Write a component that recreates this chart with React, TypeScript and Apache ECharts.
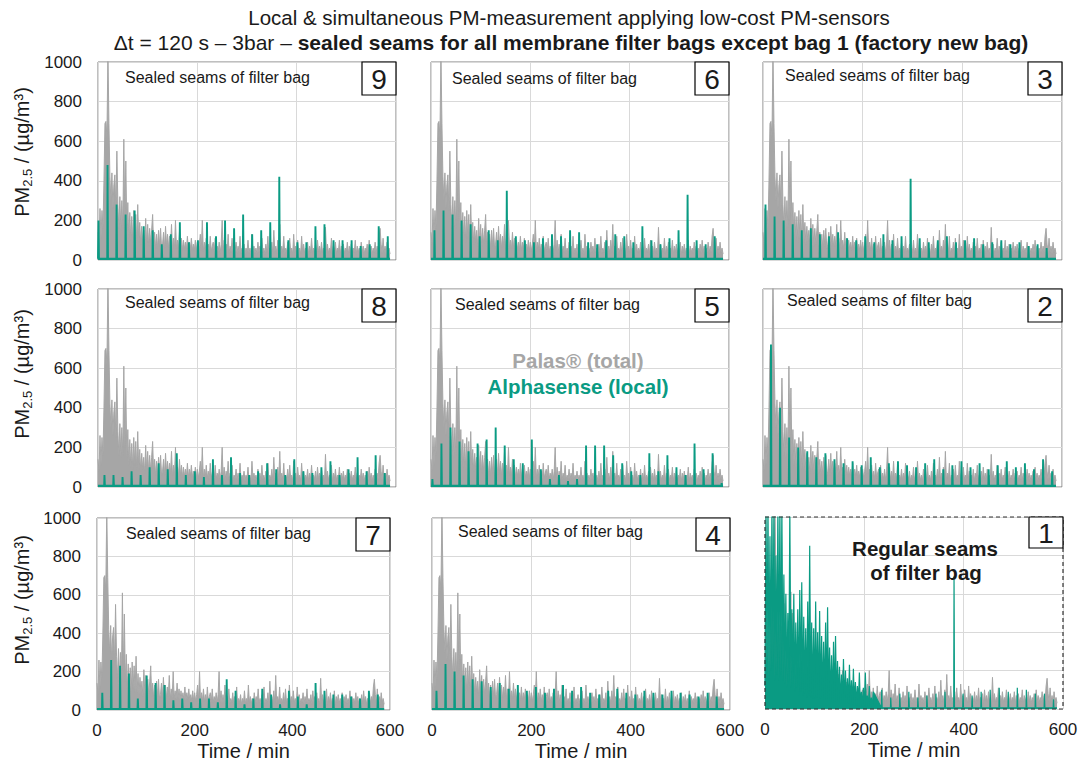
import React, { useEffect, useRef } from 'react';
import * as echarts from 'echarts';

const FONT = '"Liberation Sans", Arial, Helvetica, sans-serif';
const GRAY = '#a6a6a6';
const GREEN = '#0a9b83';
const TXT = '#1a1a1a';

// ---------- data ----------
const X_TICKS = [0, 200, 400, 600];
const Y_TICKS = [0, 200, 400, 600, 800, 1000];
const TIME_STEP = 2; // minutes between Palas samples
const CYCLE = 18.2; // minutes between two cleaning pulses of the same bag
const GREEN_BASE = 6;
const END_TIME = 588;

// Palas (total) PM2.5, every 2 min from t = 0
const PALAS = [
  140, 80, 260, 110, 250, 160, 400, 690, 700, 620,
  1050, 690, 420, 300, 440, 260, 380, 430, 250, 550,
  280, 160, 320, 150, 300, 160, 610, 200, 500, 150,
  290, 110, 240, 100, 220, 90, 250, 110, 230, 90,
  280, 90, 190, 80, 170, 90, 150, 70, 210, 80,
  180, 70, 160, 80, 150, 230, 70, 140, 60, 130,
  60, 150, 70, 160, 60, 80, 140, 60, 170, 70,
  130, 60, 120, 70, 180, 55, 110, 60, 200, 60,
  100, 55, 140, 60, 110, 50, 100, 55, 90, 50,
  120, 50, 90, 55, 110, 50, 80, 50, 100, 45,
  90, 45, 80, 130, 50, 200, 45, 90, 50, 110,
  45, 80, 40, 120, 45, 70, 90, 40, 110, 40,
  70, 40, 90, 35, 80, 200, 40, 100, 35, 80,
  40, 130, 35, 70, 40, 110, 35, 60, 40, 90,
  35, 70, 40, 120, 35, 60, 40, 80, 30, 60,
  40, 100, 35, 60, 30, 130, 40, 70, 35, 60,
  30, 90, 40, 70, 35, 110, 40, 60, 30, 80,
  40, 120, 35, 60, 40, 90, 30, 150, 40, 70,
  35, 100, 40, 180, 35, 70, 40, 120, 30, 60,
  40, 90, 35, 110, 40, 60, 30, 130, 40, 70,
  35, 100, 40, 60, 30, 120, 40, 80, 35, 60,
  40, 90, 30, 70, 40, 110, 35, 60, 40, 80,
  30, 100, 40, 70, 35, 90, 40, 60, 30, 165,
  40, 80, 35, 60, 40, 110, 30, 70, 40, 90,
  35, 60, 40, 100, 30, 70, 40, 80, 35, 60,
  40, 90, 30, 70, 40, 80, 35, 60, 40, 100,
  30, 70, 40, 60, 35, 90, 40, 70, 30, 60,
  40, 80, 35, 100, 40, 70, 30, 60, 40, 90,
  35, 70, 40, 120, 160, 80, 35, 110, 40, 70,
  30, 90, 40, 60, 30,
];

// Alphasense (local) peak values of each cleaning pulse per bag
const BAG9_PEAKS = [200, 480, 280, 230, 250, 170, 150, 80, 130, 190, 90, 100, 190, 120, 200, 160, 230, 130, 150, 190, 420, 100, 90, 90, 170, 180, 100, 100, 100, 70, 80, 170, 120];
const BAG8_PEAKS = [60, 60, 50, 80, 60, 100, 120, 90, 170, 60, 80, 50, 140, 60, 150, 70, 60, 80, 120, 90, 60, 140, 80, 70, 100, 130, 60, 90, 150, 80, 160, 70];
const BAG7_PEAKS = [90, 260, 230, 190, 60, 180, 140, 130, 50, 60, 40, 60, 60, 40, 160, 100, 30, 60, 110, 80, 30, 100, 70, 30, 140, 100, 80, 80, 70, 60, 100, 80];
const BAG6_PEAKS = [150, 250, 230, 200, 180, 120, 150, 100, 350, 120, 100, 90, 110, 130, 120, 150, 140, 90, 80, 100, 130, 120, 90, 170, 100, 80, 110, 150, 330, 100, 80, 120];
const BAG5_PEAKS = [40, 220, 300, 230, 180, 220, 240, 300, 210, 140, 120, 240, 90, 40, 60, 30, 40, 210, 210, 210, 160, 120, 80, 60, 170, 80, 160, 100, 60, 220, 90, 170, 20];
const BAG4_PEAKS = [100, 240, 200, 180, 160, 150, 120, 140, 110, 130, 100, 120, 90, 110, 130, 100, 120, 90, 80, 100, 110, 90, 80, 100, 90, 80, 100, 90, 80, 70, 90, 70];
const BAG3_PEAKS = [280, 220, 200, 180, 150, 160, 130, 120, 140, 110, 100, 120, 90, 130, 100, 120, 410, 110, 90, 100, 120, 90, 100, 110, 80, 90, 100, 80, 90, 70, 80, 60];
const BAG2_PEAKS = [720, 400, 250, 200, 180, 150, 170, 140, 120, 130, 110, 150, 100, 120, 130, 110, 100, 120, 140, 90, 110, 130, 100, 120, 90, 110, 130, 100, 120, 90, 140, 80];
const BAG1_PEAKS = [100, 60, 80, 90, 60, 70, 80, 90, 690, 80, 70, 90, 100, 110, 90, 110, 100, 80, 80, 50];
// bag 1 (regular seams): dense Alphasense signal, every 2 min from t = 0
const BAG1_EARLY = [
  120, 1050, 220, 1050, 150, 900, 200, 1050, 220, 1050,
  150, 800, 180, 1050, 150, 1050, 180, 1050, 150, 700,
  130, 600, 110, 500, 140, 1050, 110, 520, 130, 600,
  90, 450, 110, 520, 70, 620, 90, 660, 70, 480,
  80, 420, 60, 560, 70, 850, 60, 450, 55, 420,
  55, 560, 60, 400, 50, 510, 55, 380, 50, 350,
  50, 450, 40, 530, 50, 320, 40, 280, 35, 350,
  40, 380, 35, 250, 40, 220, 30, 180, 35, 260,
  30, 200, 30, 160, 28, 230, 25, 150, 22, 210,
  20, 140, 18, 120, 20, 190, 15, 90, 15, 110,
  12, 190, 10, 70, 10, 120, 8, 60, 8, 90,
];
// time of the first plotted pulse per bag (min)
const BAG_FIRST_PULSE = [235, 16, 5, 9, 2.8, 7, 10.8, 13, 1]; // bags 1..9

const BAG_PEAKS: Record<number, number[]> = {
  1: BAG1_PEAKS, 2: BAG2_PEAKS, 3: BAG3_PEAKS, 4: BAG4_PEAKS, 5: BAG5_PEAKS,
  6: BAG6_PEAKS, 7: BAG7_PEAKS, 8: BAG8_PEAKS, 9: BAG9_PEAKS,
};

const PANEL_BAGS = [
  [9, 6, 3],
  [8, 5, 2],
  [7, 4, 1],
];

// ---------- layout ----------
const PANEL_RECTS = [
  [{ l: 98, r: 396, t: 62, b: 260 }, { l: 431, r: 729, t: 62, b: 260 }, { l: 763, r: 1062, t: 62, b: 260 }],
  [{ l: 98, r: 396, t: 289, b: 487 }, { l: 431, r: 729, t: 289, b: 487 }, { l: 763, r: 1062, t: 289, b: 487 }],
  [{ l: 97, r: 390, t: 518, b: 710 }, { l: 432, r: 730, t: 518, b: 710 }, { l: 765, r: 1063, t: 517, b: 709 }],
];
const SEALED_POS = [
  [[125, 77], [452, 78], [785, 75]],
  [[125, 302], [455, 304], [787, 300]],
  [[126, 533], [458, 531], null],
];
const YNAME_CENTER = [152, 374, 600];

function palasData() {
  return PALAS.map((v, i) => [i * TIME_STEP, v]);
}

function greenData(bag: number) {
  const pts: number[][] = [];
  if (bag === 1) {
    BAG1_EARLY.forEach((v, i) => pts.push([i * TIME_STEP, v]));
  } else {
    pts.push([0, GREEN_BASE]);
  }
  const first = BAG_FIRST_PULSE[bag - 1];
  BAG_PEAKS[bag].forEach((p, k) => {
    const ts = first + k * CYCLE;
    pts.push([ts - 0.6, GREEN_BASE], [ts, p], [ts + 0.9, GREEN_BASE]);
  });
  pts.push([END_TIME, GREEN_BASE]);
  return pts;
}

function buildOption() {
  const grid: any[] = [];
  const xAxis: any[] = [];
  const yAxis: any[] = [];
  const series: any[] = [];
  const graphic: any[] = [];

  graphic.push({
    type: 'text', x: 569, y: 17, z: 100,
    style: { text: 'Local & simultaneous PM-measurement applying low-cost PM-sensors', fontFamily: FONT, fontSize: 20.5, fill: TXT, align: 'center', verticalAlign: 'middle' },
  });
  graphic.push({
    type: 'text', x: 571, y: 42, z: 100,
    style: {
      text: '{n|Δt = 120 s – 3bar – }{b|sealed seams for all membrane filter bags except bag 1 (factory new bag)}',
      align: 'center', verticalAlign: 'middle',
      rich: {
        n: { fontFamily: FONT, fontSize: 21, fill: TXT },
        b: { fontFamily: FONT, fontSize: 21, fontWeight: 'bold', fill: TXT },
      },
    },
  });

  let idx = 0;
  PANEL_BAGS.forEach((row, ri) => {
    graphic.push({
      type: 'text', x: 22, y: YNAME_CENTER[ri], rotation: Math.PI / 2, z: 100,
      style: {
        text: '{a|PM}{s|2.5}{a| / (µg/m³)}',
        align: 'center', verticalAlign: 'middle',
        rich: {
          a: { fontFamily: FONT, fontSize: 20, fill: TXT, lineHeight: 24 },
          s: { fontFamily: FONT, fontSize: 13, fill: TXT, lineHeight: 13, verticalAlign: 'bottom' },
        },
      },
    });
    row.forEach((bag, ci) => {
      const rc = PANEL_RECTS[ri][ci];
      const isBag1 = bag === 1;
      grid.push({
        left: rc.l, top: rc.t, width: rc.r - rc.l, height: rc.b - rc.t,
        show: !isBag1, borderColor: '#7f7f7f', borderWidth: 1, backgroundColor: 'transparent',
        containLabel: false, outerBoundsMode: 'none',
      });
      const bottom = ri === 2;
      xAxis.push({
        gridIndex: idx, type: 'value', min: X_TICKS[0], max: X_TICKS[X_TICKS.length - 1], interval: X_TICKS[1] - X_TICKS[0],
        axisLine: { show: false }, axisTick: { show: false },
        splitLine: { show: true, lineStyle: { color: '#d9d9d9', width: 1 } },
        axisLabel: { show: bottom, fontFamily: FONT, fontSize: 17, color: TXT, margin: 12, formatter: (v: number) => String(v) },
        name: bottom ? 'Time / min' : '', nameLocation: 'middle', nameGap: 31,
        nameTextStyle: { fontFamily: FONT, fontSize: 20, color: TXT },
      });
      yAxis.push({
        gridIndex: idx, type: 'value', min: Y_TICKS[0], max: Y_TICKS[Y_TICKS.length - 1], interval: Y_TICKS[1] - Y_TICKS[0],
        axisLine: { show: false }, axisTick: { show: false },
        splitLine: { show: true, lineStyle: { color: '#d9d9d9', width: 1 } },
        axisLabel: { show: ci === 0, fontFamily: FONT, fontSize: 17, color: TXT, margin: 16, formatter: (v: number) => String(v) },
      });
      series.push({
        type: 'line', name: 'Palas® (total)', xAxisIndex: idx, yAxisIndex: idx, data: palasData(),
        symbol: 'none', lineStyle: { color: GRAY, width: 1 }, areaStyle: { color: GRAY, opacity: 1 },
        itemStyle: { color: GRAY }, clip: true, silent: true, z: 2,
      });
      series.push({
        type: 'line', name: 'Alphasense (local)', xAxisIndex: idx, yAxisIndex: idx, data: greenData(bag),
        symbol: 'none', lineStyle: { color: GREEN, width: isBag1 ? 1.2 : 1.9 },
        areaStyle: { color: GREEN, opacity: 1 },
        itemStyle: { color: GREEN }, clip: true, silent: true, z: 3,
      });

      // number box
      const bw = 34, bh = isBag1 ? 31 : 33;
      const bx = rc.r - bw;
      const by = rc.t;
      graphic.push({
        type: 'rect', z: 100, shape: { x: bx, y: by, width: bw, height: bh },
        style: { fill: '#fff', stroke: '#000', lineWidth: 1.2 },
      });
      graphic.push({
        type: 'text', z: 101, x: bx + bw / 2, y: by + bh / 2 + 1,
        style: { text: String(bag), fontFamily: FONT, fontSize: 28, fill: TXT, align: 'center', verticalAlign: 'middle' },
      });
      const sp = SEALED_POS[ri][ci];
      if (sp) {
        graphic.push({
          type: 'text', z: 100, x: sp[0], y: sp[1],
          style: { text: 'Sealed seams of filter bag', fontFamily: FONT, fontSize: 16, fill: TXT, align: 'left', verticalAlign: 'middle' },
        });
      }
      if (isBag1) {
        graphic.push({
          type: 'rect', z: 99, shape: { x: rc.l, y: rc.t, width: rc.r - rc.l, height: rc.b - rc.t },
          style: { fill: 'none', stroke: '#333', lineWidth: 1.2, lineDash: [4, 3] },
        });
        graphic.push({
          type: 'text', z: 100, x: 925, y: 548,
          style: { text: 'Regular seams', fontFamily: FONT, fontSize: 20.5, fontWeight: 'bold', fill: TXT, align: 'center', verticalAlign: 'middle' },
        });
        graphic.push({
          type: 'text', z: 100, x: 926, y: 572,
          style: { text: 'of filter bag', fontFamily: FONT, fontSize: 20.5, fontWeight: 'bold', fill: TXT, align: 'center', verticalAlign: 'middle' },
        });
      }
      if (bag === 5) {
        graphic.push({
          type: 'text', z: 100, x: 578, y: 360,
          style: { text: 'Palas® (total)', fontFamily: FONT, fontSize: 20.5, fontWeight: 'bold', fill: GRAY, align: 'center', verticalAlign: 'middle' },
        });
        graphic.push({
          type: 'text', z: 100, x: 578, y: 386,
          style: { text: 'Alphasense (local)', fontFamily: FONT, fontSize: 20.5, fontWeight: 'bold', fill: GREEN, align: 'center', verticalAlign: 'middle' },
        });
      }
      idx++;
    });
  });

  return {
    animation: false,
    backgroundColor: '#ffffff',
    grid, xAxis, yAxis, series, graphic,
  };
}

export default function App() {
  const ref = useRef<HTMLDivElement>(null);
  useEffect(() => {
    const chart = echarts.init(ref.current!, null, { renderer: 'svg' });
    chart.setOption(buildOption());
    return () => chart.dispose();
  }, []);
  return (
    <div
      ref={ref}
      style={{ position: 'fixed', left: 0, top: 0, width: 1083, height: 766, background: '#fff' }}
    />
  );
}
